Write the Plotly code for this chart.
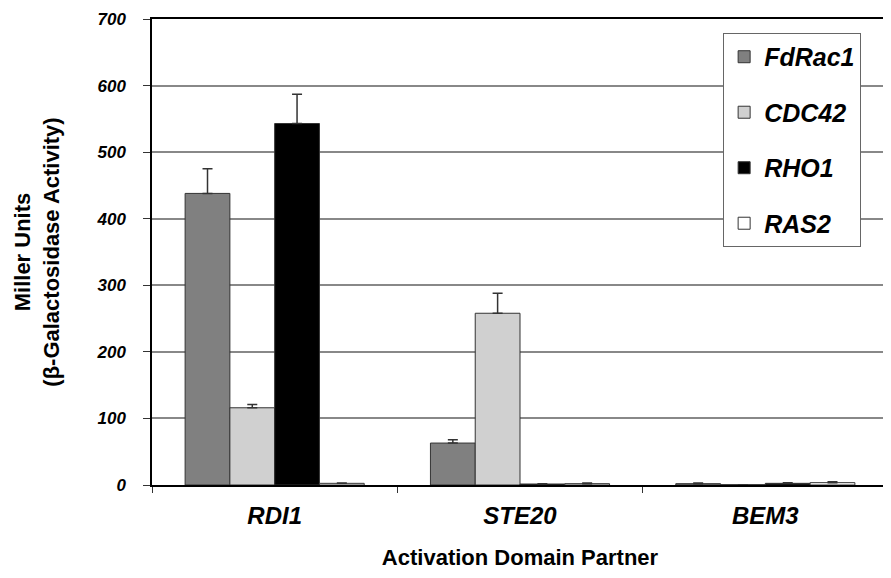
import plotly.graph_objects as go

categories = ["RDI1", "STE20", "BEM3"]
series_names = ["FdRac1", "CDC42", "RHO1", "RAS2"]
fdrac1 = [438, 63, 2]
cdc42 = [116, 258, 0.5]
rho1 = [543, 1.5, 2.5]
ras2 = [2.5, 2, 3.5]
fdrac1_err = [37, 5, 1]
cdc42_err = [5, 30, 0]
rho1_err = [44, 0.5, 1]
ras2_err = [0.5, 1, 1.5]
y_ticks = [0, 100, 200, 300, 400, 500, 600, 700]

values = [fdrac1, cdc42, rho1, ras2]
errors = [fdrac1_err, cdc42_err, rho1_err, ras2_err]
colors = ["#808080", "#d0d0d0", "#000000", "#ffffff"]

FONT = "Liberation Sans, Arial, sans-serif"

fig = go.Figure()
for i, (name, vals, errs, col) in enumerate(zip(series_names, values, errors, colors)):
    fig.add_trace(go.Bar(
        x=categories, y=vals, name=name,
        marker=dict(color=col, line=dict(color="#333333", width=1)),
        error_y=dict(type="data", symmetric=False, array=errs,
                     arrayminus=[0] * len(errs), color="#333333",
                     thickness=1.5, width=5),
        legendgroup=name,
    ))

fig.update_layout(
    width=883, height=570,
    margin=dict(l=144, r=3, t=11, b=93, autoexpand=False),
    paper_bgcolor="white", plot_bgcolor="white",
    barmode="group", bargap=0.27, bargroupgap=0,
    font=dict(family=FONT, color="black"),
    showlegend=True,
    legend=dict(
        x=0.776, y=0.970, xanchor="left", yanchor="top",
        bgcolor="white", bordercolor="#666666", borderwidth=1,
        font=dict(size=25, family=FONT, weight="bold", style="italic"),
        traceorder="grouped", tracegroupgap=20,
        itemwidth=30,
    ),
    xaxis=dict(
        showline=True, linecolor="black", linewidth=1.5, mirror=True,
        ticks="outside", ticklen=6, tickcolor="#333333", tickson="boundaries",
        tickfont=dict(size=24, family=FONT, weight="bold", style="italic"),
        ticklabelstandoff=8,
        automargin=False,
        title=dict(text="Activation Domain Partner", standoff=22,
                   font=dict(size=22, family=FONT, weight="bold")),
    ),
    yaxis=dict(
        range=[0, 700], tickvals=y_ticks,
        showline=True, linecolor="black", linewidth=1.5, mirror=True,
        ticks="outside", ticklen=7, tickcolor="#333333",
        showgrid=True, gridcolor="#888888", gridwidth=1.5,
        zeroline=False,
        automargin=False,
        ticklabelstandoff=14,
        ticklabeloverflow="allow",
        tickfont=dict(size=17, family=FONT, weight="bold", style="italic"),
        title=dict(text="Miller Units<br>(β-Galactosidase Activity)", standoff=31,
                   font=dict(size=22, family=FONT, weight="bold")),
    ),
)

fig.write_html("out.html")
